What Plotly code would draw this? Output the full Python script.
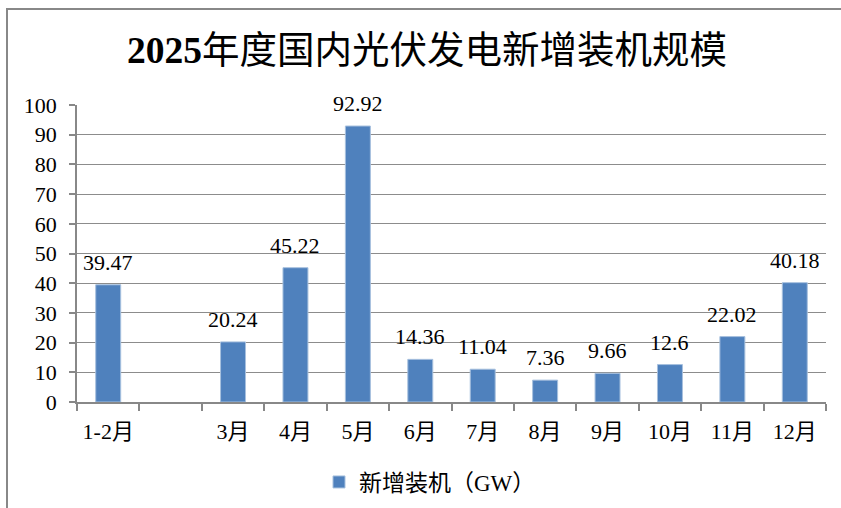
import plotly.graph_objects as go

categories = ["1-2月", "", "3月", "4月", "5月", "6月", "7月", "8月", "9月", "10月", "11月", "12月"]
values = [39.47, None, 20.24, 45.22, 92.92, 14.36, 11.04, 7.36, 9.66, 12.6, 22.02, 40.18]
labels = ["39.47", "", "20.24", "45.22", "92.92", "14.36", "11.04", "7.36", "9.66", "12.6", "22.02", "40.18"]
series_name = "新增装机（GW）"
title_year = "2025"
title_rest = "年度国内光伏发电新增装机规模"
y_ticks = list(range(0, 101, 10))

SERIF = "Liberation Serif, Times New Roman, Noto Sans CJK SC, serif"
BLUE = "#4F81BD"

xs = list(range(len(categories)))

fig = go.Figure()
fig.add_trace(go.Bar(
    x=xs, y=values, name=series_name, width=0.4,
    marker=dict(color=BLUE, line=dict(color="#A7C0DE", width=1)),
    showlegend=True, hoverinfo="skip",
))

for x, v, t in zip(xs, values, labels):
    if v is None:
        continue
    fig.add_annotation(x=x, y=v, text=t, showarrow=False, yanchor="bottom",
                       yshift=8, font=dict(family=SERIF, size=22, color="#000"))

W, H = 841, 508
L, R, T, B = 77, 826, 105, 402
pw, ph = R - L, B - T

fig.add_shape(type="rect", xref="paper", yref="paper",
              x0=(7 - L) / pw, x1=(W + 10 - L) / pw,
              y0=(B - (H + 10)) / ph, y1=(B - 9) / ph,
              line=dict(color="#888888", width=2), layer="below")

fig.update_layout(
    width=W, height=H,
    margin=dict(l=L, r=W - R, t=T, b=H - B, autoexpand=False),
    paper_bgcolor="white", plot_bgcolor="white",
    title=dict(text="<b>" + title_year + "</b>" + title_rest, x=(427 - L) / pw, xref="paper",
               xanchor="center", y=1 - 50 / H, yanchor="middle",
               font=dict(family=SERIF, size=37.5, color="#000")),
    font=dict(family=SERIF, size=22, color="#000"),
    showlegend=True,
    legend=dict(orientation="h", x=(430 - L) / pw, xanchor="center", y=(B - 482) / ph, yanchor="middle",
                font=dict(family=SERIF, size=23, color="#000"), itemwidth=30),
)

fig.update_xaxes(
    range=[-0.5, len(categories) - 0.5], automargin=False,
    tickvals=xs, ticktext=categories, ticks="", ticklen=0,
    showline=True, linecolor="#888888", linewidth=1.5,
    showgrid=False, zeroline=False,
    tickfont=dict(family=SERIF, size=22, color="#000"),
    minor=dict(tickvals=[i - 0.5 for i in range(len(categories) + 1)], ticks="outside",
               ticklen=7, tickcolor="#888888", tickwidth=1.5, showgrid=False),
    ticklabelstandoff=9,
)
fig.update_yaxes(
    range=[0, 100], tickvals=y_ticks, automargin=False,
    ticks="outside", ticklen=6, tickcolor="#888888", tickwidth=1.5,
    showline=True, linecolor="#888888", linewidth=1.5,
    showgrid=True, gridcolor="#8C8C8C", gridwidth=1.2,
    zeroline=False,
    tickfont=dict(family=SERIF, size=22, color="#000"),
    ticklabelstandoff=8,
)

fig.write_html("out.html", config={"displayModeBar": False},
               post_script="document.body.style.margin='0';")
